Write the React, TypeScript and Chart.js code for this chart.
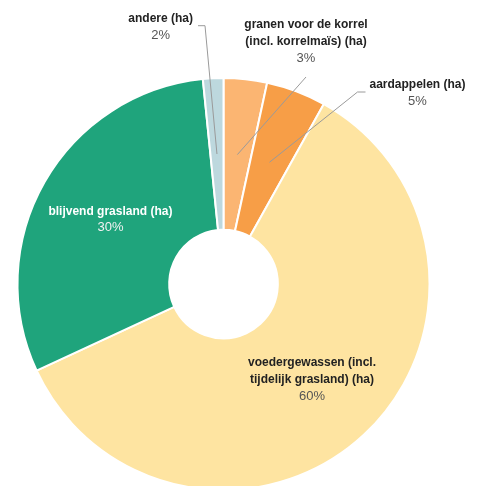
import React, { useEffect, useRef } from "react";
import { Chart, registerables } from "chart.js";

Chart.register(...registerables);

// ---- data ----
const categories = [
  "granen voor de korrel (incl. korrelmaïs) (ha)",
  "aardappelen (ha)",
  "voedergewassen (incl. tijdelijk grasland) (ha)",
  "blijvend grasland (ha)",
  "andere (ha)",
];
const labelLines = [
  ["granen voor de korrel", "(incl. korrelmaïs) (ha)"],
  ["aardappelen (ha)"],
  ["voedergewassen (incl.", "tijdelijk grasland) (ha)"],
  ["blijvend grasland (ha)"],
  ["andere (ha)"],
];
const shares = [3.4, 4.7, 60.0, 30.3, 1.6];
const colors = ["#fbb572", "#f79e47", "#fee4a1", "#1fa47c", "#bdd8de"];
const labelColors = ["#222", "#222", "#222", "#fff", "#222"];
const pctColors = ["#555", "#555", "#555", "#f2f2f2", "#555"];

// label placement (offsets of the leader-line elbow from the chart centre)
const placements: any[] = [
  { mode: "above", elbow: [82.5, -207] },
  { mode: "right", elbow: [134, -192], tail: 8 },
  { mode: "inside" },
  { mode: "inside" },
  { mode: "left", elbow: [-18.5, -258.3], tail: 7 },
];

const LH = 16.6;
const BOLD = 'bold 12px "Liberation Sans", Arial, sans-serif';
const NORMAL = '13px "Liberation Sans", Arial, sans-serif';

const labelPlugin = {
  id: "sliceLabels",
  afterDatasetsDraw(chart: any) {
    const ctx = chart.ctx;
    const meta = chart.getDatasetMeta(0);
    const total = shares.reduce((a, b) => a + b, 0);
    ctx.save();
    ctx.textBaseline = "middle";
    ctx.textAlign = "center";
    meta.data.forEach((arc: any, i: number) => {
      const pos = arc.tooltipPosition();
      const cx = arc.x;
      const cy = arc.y;
      const pct = Math.round((shares[i] / total) * 100) + "%";
      const lines = labelLines[i];
      const n = lines.length + 1;
      ctx.font = BOLD;
      let maxW = 0;
      lines.forEach((l) => (maxW = Math.max(maxW, ctx.measureText(l).width)));
      const pl = placements[i];
      let bx = pos.x;
      let byCenter = pos.y;
      if (pl.mode !== "inside") {
        const ex = cx + pl.elbow[0];
        const ey = cy + pl.elbow[1];
        ctx.strokeStyle = "#9a9a9a";
        ctx.lineWidth = 1;
        ctx.beginPath();
        ctx.moveTo(pos.x, pos.y);
        ctx.lineTo(ex, ey);
        if (pl.mode === "right") {
          ctx.lineTo(ex + pl.tail, ey);
          bx = ex + pl.tail + 4 + maxW / 2;
          byCenter = ey + 1.2;
        } else if (pl.mode === "left") {
          ctx.lineTo(ex - pl.tail, ey);
          bx = ex - pl.tail - 5 - maxW / 2;
          byCenter = ey + 1;
        } else {
          bx = ex;
          byCenter = ey - 19 - ((n - 1) * LH) / 2;
        }
        ctx.stroke();
      }
      const y0 = byCenter - ((n - 1) * LH) / 2;
      ctx.font = BOLD;
      ctx.fillStyle = labelColors[i];
      lines.forEach((l, k) => ctx.fillText(l, bx, y0 + k * LH));
      ctx.font = NORMAL;
      ctx.fillStyle = pctColors[i];
      ctx.fillText(pct, bx, y0 + lines.length * LH);
    });
    ctx.restore();
  },
};

export default function App() {
  const ref = useRef<HTMLCanvasElement>(null);
  useEffect(() => {
    if (!ref.current) return;
    const chart = new Chart(ref.current, {
      type: "doughnut",
      data: {
        labels: categories,
        datasets: [
          {
            data: shares,
            backgroundColor: colors,
            borderColor: "#ffffff",
            borderWidth: 2,
            hoverOffset: 0,
          } as any,
        ],
      },
      options: {
        responsive: false,
        animation: false,
        events: [],
        cutout: 53,
        radius: 206,
        layout: { padding: { left: 0, right: 31, top: 82, bottom: 0 } },
        plugins: {
          legend: { display: false },
          tooltip: { enabled: false },
        },
      } as any,
      plugins: [labelPlugin],
    });
    return () => chart.destroy();
  }, []);
  return (
    <div style={{ position: "fixed", left: 0, top: 0, width: 478, height: 486, background: "#fff" }}>
      <canvas ref={ref} width={478} height={486} style={{ display: "block" }} />
    </div>
  );
}
